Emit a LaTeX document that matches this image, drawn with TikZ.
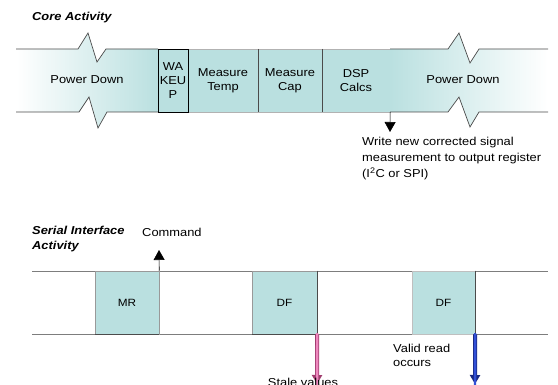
\documentclass[tikz,border=0pt]{standalone}
\usepackage{fontspec}
\setmainfont{Liberation Sans}[FakeStretch=1.12]
\usetikzlibrary{arrows.meta}
\definecolor{teal1}{RGB}{186,224,224}
\definecolor{lineg}{RGB}{75,75,75}
\definecolor{sline}{RGB}{125,125,125}
\definecolor{pinkA}{RGB}{238,135,190}
\definecolor{pinkD}{RGB}{160,60,110}
\definecolor{blueA}{RGB}{50,80,215}
\definecolor{blueD}{RGB}{25,40,130}
\tikzset{
  txt/.style={font=\fontsize{11.5}{14}\selectfont, inner sep=0pt},
  ttl/.style={font=\fontsize{11.5}{15}\selectfont\bfseries\itshape, inner sep=0pt, align=left},
  corebox/.style={txt, fill=teal1, draw=none, minimum height=63, align=center},
  wakebox/.style={corebox, draw=black, line width=0.9pt},
  serbox/.style={font=\fontsize{10.5}{13}\selectfont, inner sep=0pt, fill=teal1, draw=gray!80, line width=0.5pt, minimum height=63},
  bandline/.style={draw=lineg, line width=0.7pt},
  boxedge/.style={draw=gray!60, line width=0.5pt},
  serline/.style={draw=sline, line width=0.6pt},
  blackarrow/.style={draw=black, line width=0.6pt, -{Triangle[length=10pt,width=11pt]}},
  pinkarrow/.style={draw=pinkD, line width=4pt, -{Triangle[length=9pt,width=10pt]}},
  pinkinner/.style={draw=pinkA, line width=2.4pt},
  bluearrow/.style={draw=blueD, line width=4pt, -{Triangle[length=9pt,width=10pt]}},
  blueinner/.style={draw=blueA, line width=2.4pt}
}
\begin{document}
\begin{tikzpicture}[x=1pt,y=-1pt]
\useasboundingbox (0,0) rectangle (558,385);
\fill[white] (0,0) rectangle (558,385);

% ---------- Core activity band ----------
\shade[left color=white, right color=teal1]
  (16,49) -- (78,49) -- (88,33) -- (97,62) -- (106,49) -- (158,49) -- (158,112)
  -- (107,112) -- (98,128) -- (89,97) -- (79,112) -- (16,112) -- cycle;
\shade[left color=teal1, right color=white]
  (390,49) -- (448,49) -- (459,33) -- (470,63) -- (479,49) -- (548,49) -- (548,112)
  -- (479,112) -- (470,127) -- (459,97) -- (448,112) -- (390,112) -- cycle;
\draw[bandline] (16,49) -- (78,49) -- (88,33) -- (97,62) -- (106,49) -- (158,49);
\draw[bandline] (16,112) -- (79,112) -- (89,97) -- (98,128) -- (107,112) -- (158,112);
\draw[bandline] (390,49) -- (448,49) -- (459,33) -- (470,63) -- (479,49) -- (548,49);
\draw[bandline] (390,112) -- (448,112) -- (459,97) -- (470,127) -- (479,112) -- (548,112);

\node[corebox, minimum width=70] (temp) at (223,80.5) {Measure\\Temp};
\node[corebox, minimum width=64] (cap) at (290,80.5) {Measure\\Cap};
\node[corebox, minimum width=68] (dsp) at (356,80.5) {DSP\\Calcs};
\draw[boxedge] (temp.north west) -- (dsp.north east);
\draw[boxedge] (temp.south west) -- (dsp.south east);
\draw[lineg, line width=0.6pt] (temp.north east) -- (temp.south east);
\draw[lineg, line width=0.6pt] (cap.north east) -- (cap.south east);
\node[wakebox, minimum width=30] (wake) at (173,80.5) {WA\\KEU\\P};

\node[txt] (pdl) at (87,80) {Power Down};
\node[txt] (pdr) at (463,80) {Power Down};

\node[ttl, anchor=west] (core) at (32,18) {Core Activity};

\coordinate (wtip) at (390,132);
\draw[blackarrow] (dsp.south east) -- (wtip);
\node[font=\fontsize{11.5}{16}\selectfont, inner sep=0pt, align=left, anchor=north west]
  (write) at (362,137) {Write new corrected signal\\measurement to output register\\(I\textsuperscript{2}C or SPI)};

% ---------- Serial interface ----------
\node[ttl, anchor=north west] (serial) at (32,226) {Serial Interface\\Activity};
\node[txt, anchor=west] (cmd) at (142,232) {Command};

\draw[serline] (32,271) -- (548,271);
\draw[serline] (32,334) -- (548,334);

\node[serbox, minimum width=64] (mr) at (127,302.5) {MR};
\node[serbox, minimum width=65] (dfa) at (284.5,302.5) {DF};
\node[serbox, minimum width=63, draw=gray!50] (dfb) at (443.5,302.5) {DF};
\draw[lineg, line width=1pt] (mr.south west) -- (mr.south east);
\draw[lineg, line width=1pt] (dfa.south west) -- (dfa.south east);
\draw[lineg, line width=0.6pt] (dfa.north east) -- (dfa.south east);
\draw[lineg, line width=0.6pt] (dfb.north east) -- (dfb.south east);

\coordinate (ctip) at (159,250);
\draw[blackarrow] (mr.north east) -- (ctip);

\coordinate (ptip) at (317,384);
\coordinate (btip) at (475,384);
\draw[pinkarrow] (dfa.south east) -- (ptip);
\draw[pinkinner] ([yshift=1pt]dfa.south east) -- ([yshift=-8pt]ptip);
\draw[bluearrow] (dfb.south east) -- (btip);
\draw[blueinner] ([yshift=1pt]dfb.south east) -- ([yshift=-8pt]btip);

\node[txt, align=left, anchor=north west] (valid) at (393,344) {Valid read\\occurs};
\node[txt, anchor=base] (stale) at (303,387) {Stale values};
\end{tikzpicture}
\end{document}
